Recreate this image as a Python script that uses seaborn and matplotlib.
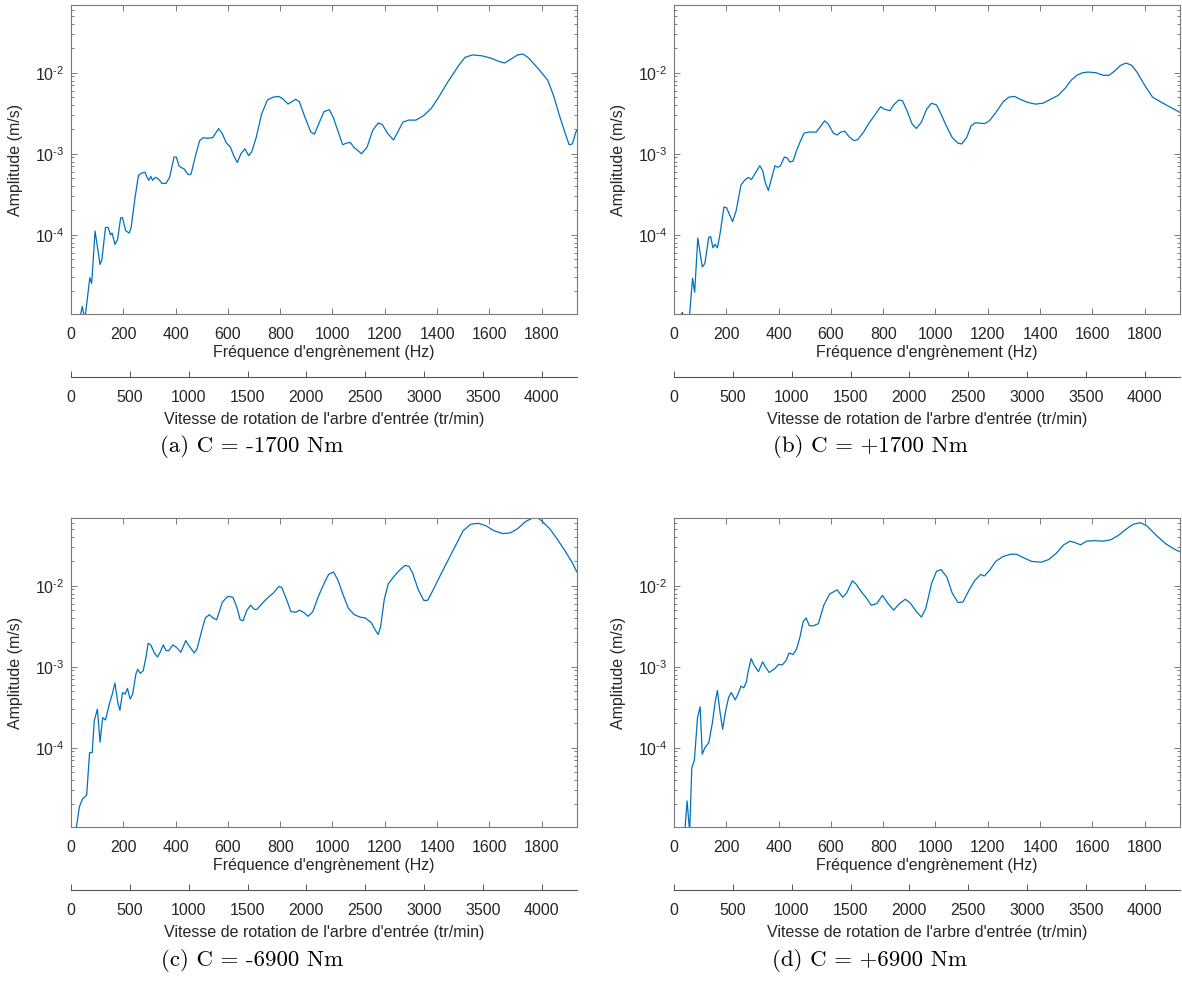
import matplotlib
matplotlib.use('Agg')
import matplotlib.pyplot as plt
import seaborn as sns
from matplotlib.ticker import LogLocator, NullFormatter, FuncFormatter
import numpy as np

# pinion teeth: mesh frequency (Hz) = rpm * 27 / 60
n_teeth = 27

hz_a = [30, 43, 53, 72, 79, 92, 111, 118, 132, 142, 151, 157, 168, 178, 190, 197, 209, 223, 230, 245,
        258, 269, 283, 291, 298, 305, 312, 322, 334, 348, 363, 377, 394, 403, 413, 420, 432, 449, 459, 478,
        492, 506, 521, 542, 564, 578, 593, 610, 622, 636, 650, 665, 679, 691, 708, 729, 751, 773, 794, 809,
        830, 845, 859, 873, 895, 917, 931, 950, 967, 988, 1003, 1024, 1039, 1053, 1068, 1082, 1111, 1132,
        1154, 1175, 1190, 1211, 1233, 1247, 1269, 1291, 1319, 1348, 1377, 1406, 1442, 1485, 1507, 1535,
        1571, 1607, 1636, 1658, 1679, 1708, 1729, 1751, 1787, 1823, 1845, 1866, 1888, 1905, 1917, 1931, 1940]
amp_a = [8e-6, 1.3e-5, 9e-6, 2.95e-5, 2.5e-5, 1.11e-4, 4.3e-5, 4.9e-5, 1.23e-4, 1.23e-4, 1.0e-4, 1.05e-4,
         7.6e-5, 8.7e-5, 1.62e-4, 1.62e-4, 1.12e-4, 1.05e-4, 1.23e-4, 2.9e-4,
         5.4e-4, 5.75e-4, 5.9e-4, 5.1e-4, 4.7e-4, 5.25e-4, 4.7e-4, 5.1e-4, 4.9e-4, 4.3e-4, 4.3e-4, 5.1e-4,
         9.1e-4, 9.1e-4, 7.1e-4, 6.8e-4, 6.5e-4, 5.5e-4, 5.6e-4, 1.0e-3,
         1.45e-3, 1.58e-3, 1.55e-3, 1.58e-3, 2.04e-3, 1.78e-3, 1.38e-3, 1.2e-3, 9.5e-4, 7.8e-4, 1.0e-3,
         1.15e-3, 9.5e-4, 1.05e-3, 1.58e-3, 3.1e-3, 4.6e-3, 5.0e-3, 5.1e-3, 4.8e-3,
         4.1e-3, 4.4e-3, 4.7e-3, 4.4e-3, 2.8e-3, 1.86e-3, 1.74e-3, 2.45e-3, 3.3e-3, 3.5e-3, 2.8e-3, 1.78e-3,
         1.29e-3, 1.35e-3, 1.38e-3, 1.2e-3, 1.0e-3, 1.2e-3,
         1.95e-3, 2.4e-3, 2.3e-3, 1.78e-3, 1.48e-3, 1.78e-3, 2.45e-3, 2.6e-3, 2.6e-3, 2.95e-3, 3.6e-3,
         5.0e-3, 7.8e-3, 1.26e-2, 1.55e-2, 1.66e-2,
         1.62e-2, 1.51e-2, 1.38e-2, 1.32e-2, 1.45e-2, 1.66e-2, 1.70e-2, 1.51e-2, 1.12e-2, 8.1e-3, 5.25e-3,
         3.1e-3, 1.86e-3, 1.29e-3, 1.32e-3, 1.86e-3, 2.1e-3]

hz_b = [10, 32, 40, 58, 71, 79, 91, 108, 118, 133, 140, 149, 157, 166, 176, 191, 201, 224, 238, 256,
        270, 284, 296, 313, 328, 339, 349, 361, 371, 386, 397, 407, 422, 432, 443, 455, 469, 484, 498, 516,
        544, 562, 576, 591, 609, 624, 638, 653, 671, 689, 703, 725, 746, 768, 790, 804, 826, 840, 859, 874,
        891, 910, 927, 946, 966, 985, 1004, 1021, 1043, 1064, 1086, 1100, 1119, 1136, 1151, 1165, 1187,
        1206, 1230, 1259, 1281, 1302, 1324, 1353, 1382, 1411, 1440, 1469, 1497, 1519, 1541, 1562, 1584,
        1613, 1642, 1664, 1685, 1707, 1729, 1751, 1772, 1801, 1830, 1859, 1895, 1938]
amp_b = [8e-6, 1.1e-5, 9e-6, 9e-6, 2.9e-5, 1.95e-5, 9.1e-5, 4.0e-5, 4.4e-5, 9.3e-5, 9.5e-5, 6.9e-5,
         7.6e-5, 6.9e-5, 1.02e-4, 2.2e-4, 2.15e-4, 1.45e-4, 2.0e-4, 4.1e-4,
         4.7e-4, 5.1e-4, 4.8e-4, 5.9e-4, 7.1e-4, 6.2e-4, 4.4e-4, 3.5e-4, 4.7e-4, 7.1e-4, 6.8e-4, 7.1e-4,
         9.1e-4, 8.9e-4, 7.9e-4, 8.1e-4, 1.1e-3, 1.45e-3, 1.8e-3, 1.85e-3,
         1.85e-3, 2.2e-3, 2.55e-3, 2.3e-3, 1.8e-3, 1.7e-3, 1.85e-3, 1.9e-3, 1.6e-3, 1.45e-3, 1.5e-3,
         1.85e-3, 2.4e-3, 3.0e-3, 3.8e-3, 3.55e-3, 3.4e-3, 4.0e-3, 4.6e-3, 4.5e-3,
         3.4e-3, 2.35e-3, 2.05e-3, 2.45e-3, 3.55e-3, 4.2e-3, 4.0e-3, 3.1e-3, 2.15e-3, 1.58e-3, 1.35e-3,
         1.32e-3, 1.58e-3, 2.2e-3, 2.4e-3, 2.4e-3, 2.35e-3,
         2.55e-3, 3.2e-3, 4.4e-3, 5.0e-3, 5.1e-3, 4.7e-3, 4.3e-3, 4.1e-3, 4.2e-3, 4.7e-3, 5.25e-3, 6.5e-3,
         8.1e-3, 9.3e-3, 1.0e-2, 1.02e-2,
         1.0e-2, 9.3e-3, 9.3e-3, 1.05e-2, 1.23e-2, 1.32e-2, 1.23e-2, 1.0e-2, 6.9e-3, 5.0e-3, 4.4e-3,
         3.8e-3, 3.2e-3]

hz_c = [15, 20, 32, 43, 60, 71, 81, 89, 101, 111, 121, 132, 147, 158, 168, 179, 187, 197, 207, 216,
        226, 236, 248, 255, 265, 276, 287, 295, 305, 320, 331, 341, 353, 363, 374, 389, 403, 420, 439, 449,
        471, 482, 500, 514, 529, 543, 557, 579, 600, 619, 634, 647, 658, 673, 687, 701, 711, 730, 752, 773,
        795, 806, 824, 841, 860, 874, 889, 907, 925, 946, 968, 985, 1004, 1021, 1040, 1061, 1083, 1105,
        1126, 1148, 1162, 1174, 1184, 1198, 1213, 1234, 1256, 1277, 1292, 1306, 1328, 1349, 1364, 1385,
        1414, 1443, 1472, 1500, 1529, 1558, 1587, 1616, 1652, 1681, 1709, 1738, 1767, 1781, 1803, 1832,
        1861, 1889, 1918, 1933, 1940]
amp_c = [8e-6, 1.0e-5, 1.86e-5, 2.3e-5, 2.6e-5, 8.7e-5, 8.7e-5, 2.15e-4, 3.0e-4, 1.17e-4, 2.35e-4,
         2.2e-4, 3.5e-4, 4.6e-4, 6.3e-4, 3.6e-4, 2.9e-4, 4.8e-4, 4.6e-4, 5.4e-4,
         4.0e-4, 4.6e-4, 8.1e-4, 9.3e-4, 8.3e-4, 8.9e-4, 1.32e-3, 1.95e-3, 1.86e-3, 1.45e-3, 1.32e-3,
         1.51e-3, 1.86e-3, 1.58e-3, 1.58e-3, 1.86e-3, 1.74e-3, 1.51e-3, 2.1e-3, 1.86e-3,
         1.48e-3, 1.66e-3, 2.8e-3, 4.0e-3, 4.4e-3, 4.0e-3, 3.8e-3, 6.3e-3, 7.4e-3, 7.2e-3, 5.5e-3, 3.8e-3,
         3.7e-3, 5.0e-3, 5.75e-3, 5.1e-3, 5.1e-3, 6.0e-3, 7.1e-3, 8.1e-3,
         9.8e-3, 9.5e-3, 6.8e-3, 4.8e-3, 4.7e-3, 5.0e-3, 4.7e-3, 4.2e-3, 4.8e-3, 7.4e-3, 1.07e-2, 1.38e-2,
         1.48e-2, 1.17e-2, 7.8e-3, 5.25e-3, 4.4e-3, 4.1e-3,
         4.0e-3, 3.5e-3, 2.9e-3, 2.5e-3, 3.1e-3, 6.8e-3, 1.05e-2, 1.29e-2, 1.55e-2, 1.78e-2, 1.74e-2,
         1.45e-2, 8.9e-3, 6.6e-3, 6.6e-3, 8.9e-3,
         1.38e-2, 2.1e-2, 3.2e-2, 4.8e-2, 5.75e-2, 5.9e-2, 5.5e-2, 4.8e-2, 4.4e-2, 4.5e-2, 5.1e-2, 6.2e-2,
         6.9e-2, 7.1e-2, 6.2e-2, 5.0e-2,
         3.7e-2, 2.7e-2, 1.9e-2, 1.51e-2, 1.4e-2]

hz_d = [40, 50, 60, 68, 78, 90, 100, 108, 118, 133, 147, 157, 166, 176, 186, 198, 209, 219, 234, 245,
        256, 267, 277, 284, 295, 306, 323, 339, 349, 364, 386, 400, 414, 429, 440, 455, 469, 482, 494, 505,
        518, 533, 552, 573, 595, 624, 645, 660, 682, 696, 718, 735, 754, 775, 797, 819, 840, 862, 884, 902,
        927, 946, 963, 985, 1004, 1021, 1043, 1064, 1086, 1105, 1129, 1151, 1173, 1187, 1209, 1230, 1259,
        1288, 1310, 1339, 1367, 1404, 1432, 1461, 1490, 1515, 1534, 1555, 1577, 1606, 1642, 1671, 1700,
        1729, 1757, 1783, 1808, 1844, 1880, 1916, 1938]
amp_d = [8e-6, 2.2e-5, 9e-6, 5.6e-5, 7.1e-5, 2.35e-4, 3.2e-4, 8.3e-5, 1.0e-4, 1.15e-4, 2.05e-4, 3.6e-4,
         5.1e-4, 2.75e-4, 1.7e-4, 2.9e-4, 4.2e-4, 4.8e-4, 3.9e-4, 4.6e-4,
         5.75e-4, 5.5e-4, 6.5e-4, 8.9e-4, 1.26e-3, 1.05e-3, 8.7e-4, 1.15e-3, 1.0e-3, 8.5e-4, 9.5e-4,
         1.07e-3, 1.05e-3, 1.2e-3, 1.48e-3, 1.41e-3, 1.66e-3, 2.35e-3, 3.6e-3, 4.0e-3,
         3.2e-3, 3.2e-3, 3.4e-3, 5.75e-3, 7.9e-3, 8.9e-3, 7.2e-3, 8.1e-3, 1.15e-2, 1.05e-2, 8.3e-3, 7.1e-3,
         5.75e-3, 6.0e-3, 7.6e-3, 6.0e-3, 5.0e-3, 6.0e-3, 6.8e-3, 6.2e-3,
         4.8e-3, 4.1e-3, 5.25e-3, 1.07e-2, 1.51e-2, 1.58e-2, 1.29e-2, 8.1e-3, 6.2e-3, 6.3e-3, 8.9e-3,
         1.17e-2, 1.38e-2, 1.32e-2, 1.58e-2, 2.0e-2, 2.3e-2,
         2.45e-2, 2.45e-2, 2.2e-2, 2.0e-2, 1.95e-2, 2.1e-2, 2.5e-2, 3.2e-2, 3.55e-2, 3.4e-2, 3.2e-2,
         3.55e-2, 3.6e-2, 3.55e-2, 3.7e-2, 4.2e-2,
         5.0e-2, 5.75e-2, 6.0e-2, 5.5e-2, 4.2e-2, 3.3e-2, 2.8e-2, 2.6e-2]

captions = ['(a) C = -1700 Nm', '(b) C = +1700 Nm', '(c) C = -6900 Nm', '(d) C = +6900 Nm']
hz_ticks = list(range(0, 2000, 200))
rpm_ticks = list(range(0, 4500, 500))
rpm_max = 4300

sns.set_theme(style='ticks')
plt.rcParams['font.family'] = ['Liberation Sans', 'DejaVu Sans']
plt.rcParams['mathtext.fontset'] = 'custom'
plt.rcParams['mathtext.rm'] = 'Liberation Sans'
plt.rcParams['mathtext.it'] = 'Liberation Sans:italic'
plt.rcParams['mathtext.bf'] = 'Liberation Sans:bold'

dark = '#262626'
box = '#7a7a7a'
blue = '#0072BD'


def pow10(v, pos):
    e = int(round(np.log10(v)))
    return r'$10^{\text{-}%d}$' % (-e) if e < 0 else r'$10^{%d}$' % e


fig = plt.figure(figsize=(11.82, 9.81), dpi=100)

W, H = 1182, 981
lefts = [71, 674]
tops = [5, 518]
aw, ah = 506, 309
cap_x = [252, 870]
cap_y = [447, 961]

data = [(hz_a, amp_a), (hz_b, amp_b), (hz_c, amp_c), (hz_d, amp_d)]

for i, (hz, amp) in enumerate(data):
    r, c = divmod(i, 2)
    ax = fig.add_axes([lefts[c] / W, 1 - (tops[r] + ah) / H, aw / W, ah / H])
    sns.lineplot(x=hz, y=amp, ax=ax, color=blue, linewidth=0.9)
    ax.set_yscale('log')
    ax.set_xlim(0, rpm_max * n_teeth / 60)
    ax.set_ylim(1.05e-5, 0.0686)
    ax.set_xticks(hz_ticks)
    ax.yaxis.set_minor_locator(LogLocator(base=10, subs=range(2, 10), numticks=20))
    ax.yaxis.set_minor_formatter(NullFormatter())
    ax.set_yticks([1e-4, 1e-3, 1e-2])
    ax.yaxis.set_major_formatter(FuncFormatter(pow10))
    ax.tick_params(axis='both', which='both', direction='in', top=True, right=True,
                   colors=dark, labelsize=11.5, width=0.7)
    ax.tick_params(axis='both', which='major', length=4.2)
    ax.tick_params(axis='both', which='minor', length=2.4)
    ax.tick_params(axis='x', which='major', pad=9.5)
    ax.tick_params(axis='y', which='major', pad=5)
    ax.tick_params(axis='both', which='both', color=box)
    for sp in ax.spines.values():
        sp.set_color(box)
        sp.set_linewidth(0.8)
    ax.set_xlabel("Fréquence d'engrènement (Hz)", fontsize=11.5, color=dark, labelpad=2)
    ax.set_ylabel('Amplitude (m/s)', fontsize=11.5, color=dark, labelpad=8)

    sec = ax.secondary_xaxis(-0.205, functions=(lambda f: f * 60 / n_teeth, lambda v: v * n_teeth / 60))
    sec.set_xticks(rpm_ticks)
    sec.tick_params(axis='x', direction='in', length=4.2, width=0.7, colors=dark,
                    labelsize=11.5, pad=9)
    sec.tick_params(axis='x', color='#555555')
    sec.spines['bottom'].set_color('#555555')
    sec.spines['bottom'].set_linewidth(0.8)
    sec.set_xlabel("Vitesse de rotation de l'arbre d'entrée (tr/min)", fontsize=11.5,
                   color=dark, labelpad=5)

    fig.text(cap_x[c] / W, 1 - cap_y[r] / H, captions[i], family='cmr10', fontsize=16.5,
             color='black', ha='center', va='center')

fig.savefig('out.png', dpi=100)
